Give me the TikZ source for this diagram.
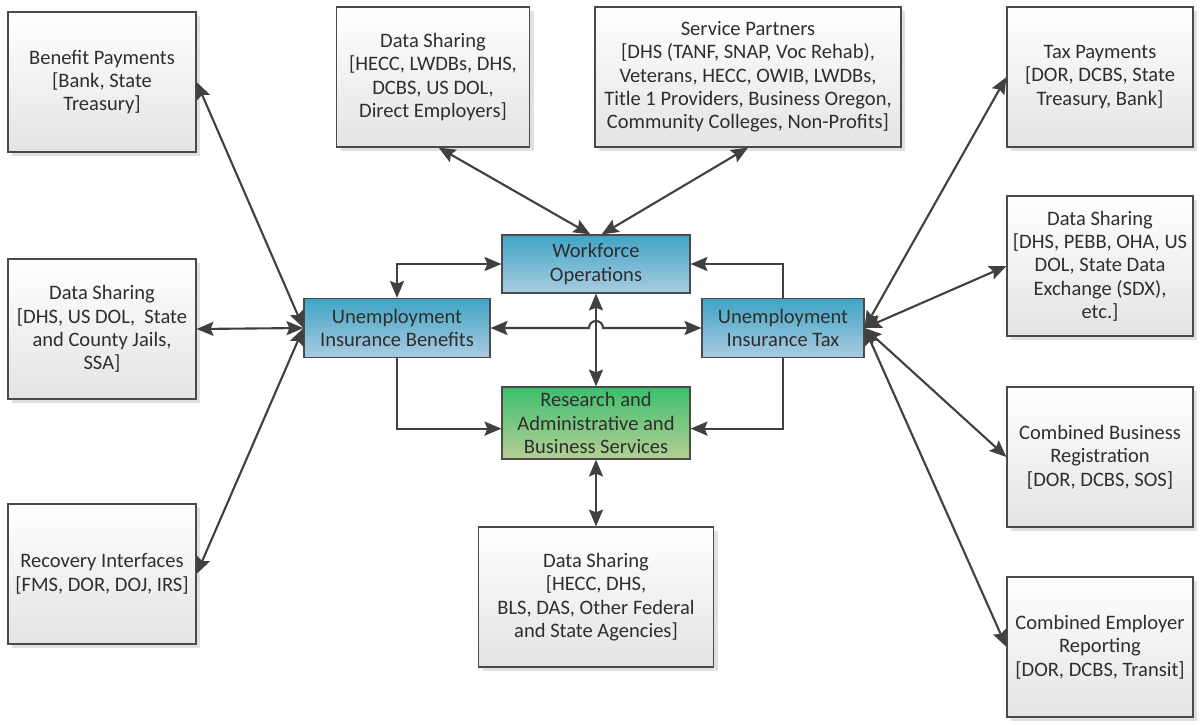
\documentclass[tikz,border=0pt]{standalone}
\usepackage{fontspec}
\setmainfont{Carlito}
\usetikzlibrary{arrows.meta,positioning,shadows,calc}
\usepackage{xcolor}
\definecolor{edge}{HTML}{404040}
\definecolor{frame}{HTML}{4A4A4A}
\definecolor{txt}{HTML}{2E2E2E}
\definecolor{bluetop}{HTML}{40A4C5}
\definecolor{bluebot}{HTML}{AACCE1}
\definecolor{greentop}{HTML}{3CBF6D}
\definecolor{greenbot}{HTML}{B6CF95}
\definecolor{paperbot}{HTML}{E4E4E4}

\begin{document}
\begin{tikzpicture}[x=0.025cm,y=0.025cm,
  font=\fontsize{14.6}{16.6}\selectfont, text=txt,
  partner/.style={draw=frame, line width=0.8pt, align=center, top color=white, bottom color=paperbot,
    minimum width=4.7cm, minimum height=3.5cm, inner sep=2pt,
    drop shadow={shadow xshift=3pt, shadow yshift=-3pt, fill=black!12, opacity=1}},
  unit/.style={draw=frame, line width=0.8pt, align=center, top color=bluetop, bottom color=bluebot,
    minimum height=1.48cm, inner sep=2pt},
  link/.style={edge, line width=1.5pt, >={Stealth[length=12pt,width=10pt,inset=2pt]}}]
  \useasboundingbox (0,0) rectangle (1200,-724);

  % Central units
  \node[unit, minimum width=4.7cm, minimum height=1.45cm] (wo) at (596,-264) {Workforce\\Operations};
  \node[unit, minimum width=4.65cm] (uib) at (397,-328) {Unemployment\\Insurance Benefits};
  \node[unit, minimum width=4.05cm] (uit) at (783,-328) {Unemployment\\Insurance Tax};
  \node[unit, minimum width=4.7cm, minimum height=1.8cm, top color=greentop, bottom color=greenbot] (rs) at (596,-423)
    {Research and\\Administrative and\\Business Services};

  % Partners, left
  \node[partner] (bp) at (102,-82) {Benefit Payments\\{[}Bank, State\\Treasury]};
  \node[partner] (dsl) at (102,-329) {Data Sharing\\{[}DHS, US DOL,\ \ State\\and County Jails,\\SSA]};
  \node[partner] (rec) at (102,-574) {Recovery Interfaces\\{[}FMS, DOR, DOJ, IRS]};

  % Partners, top and bottom
  \node[partner, minimum width=4.83cm] (dst) at (433,-77) {Data Sharing\\{[}HECC, LWDBs, DHS,\\DCBS, US DOL,\\Direct Employers]};
  \node[partner, minimum width=7.65cm] (sp) at (748,-77) {Service Partners\\{[}DHS (TANF, SNAP, Voc Rehab),\\Veterans, HECC, OWIB, LWDBs,\\Title 1 Providers, Business Oregon,\\Community Colleges, Non-Profits]};
  \node[partner, minimum width=5.88cm] (dsb) at (596,-597) {Data Sharing\\{[}HECC, DHS,\\BLS, DAS, Other Federal\\and State Agencies]};

  % Partners, right
  \node[partner, minimum width=4.65cm] (tax) at (1100,-77) {Tax Payments\\{[}DOR, DCBS, State\\Treasury, Bank]};
  \node[partner, minimum width=4.65cm] (dsr) at (1100,-266) {Data Sharing\\{[}DHS, PEBB, OHA, US\\DOL, State Data\\Exchange (SDX),\\etc.]};
  \node[partner, minimum width=4.65cm] (cbr) at (1100,-457) {Combined Business\\Registration\\{[}DOR, DCBS, SOS]};
  \node[partner, minimum width=4.65cm] (cer) at (1100,-647) {Combined Employer\\Reporting\\{[}DOR, DCBS, Transit]};

  % Links to outside partners
  \foreach \p in {bp,dsl,rec} {
    \draw[link,<->] (\p.east) -- (uib.west);
  }
  \foreach \p in {tax,dsr,cbr,cer} {
    \draw[link,<->] (\p.west) -- (uit.east);
  }
  \draw[link,<->] ([xshift=4pt]dst.south) -- ([xshift=-4pt]wo.north);
  \draw[link,<->] (sp.south) -- ([xshift=4pt]wo.north);
  \draw[link,<->] (rs.south) -- (dsb.north);

  % Links between units
  \coordinate (hop) at (wo.south |- uib.east);
  \draw[link,<->] (uib.east) -- ([xshift=-5pt]hop) arc[start angle=180,end angle=0,radius=5pt] -- (uit.west);
  \draw[link,<->] (wo.south) -- (rs.north);
  \draw[link,<->] (wo.west) -| (uib.north);
  \draw[link,->] (uit.north) |- (wo.east);
  \draw[link,->] (uib.south) |- ([yshift=-4pt]rs.west);
  \draw[link,->] (uit.south) |- ([yshift=-4pt]rs.east);
\end{tikzpicture}
\end{document}
